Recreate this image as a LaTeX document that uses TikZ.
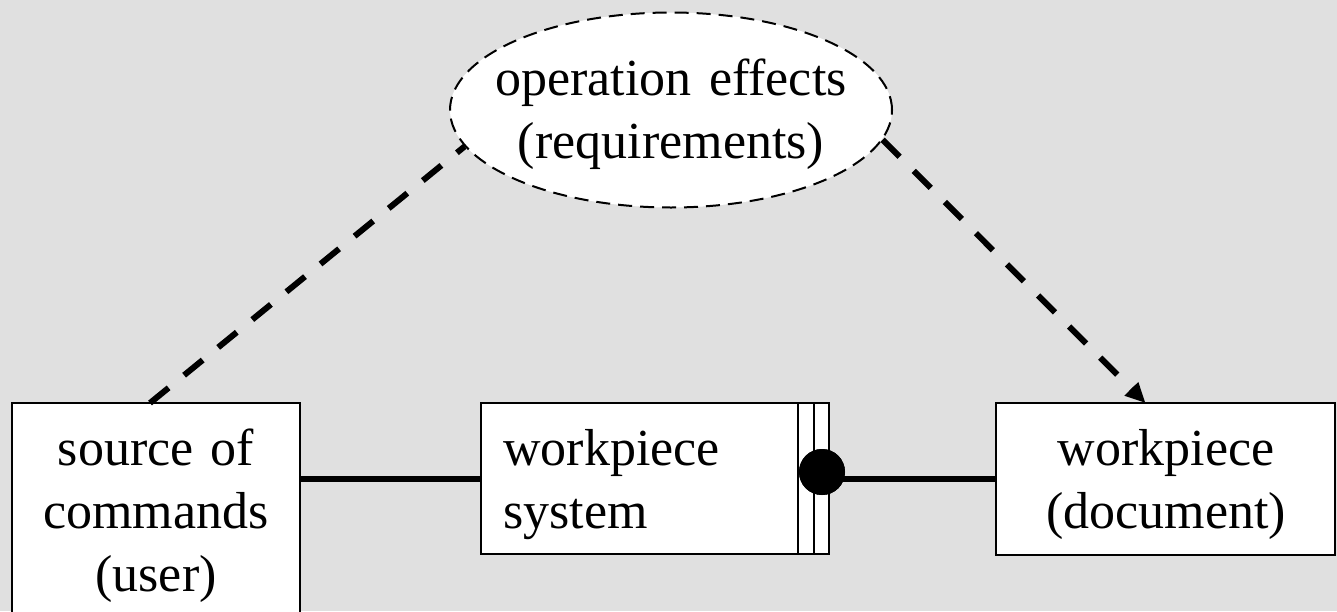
\documentclass[tikz,border=0pt]{standalone}
\usepackage{fontspec}
\setmainfont{Liberation Serif}
\usetikzlibrary{shapes.geometric,arrows.meta}
\definecolor{bg}{RGB}{224,224,224}
\begin{document}
\begin{tikzpicture}[x=0.5pt,y=-0.5pt,
  box/.style={draw,line width=1pt,fill=white,inner sep=0pt,outer sep=0pt,anchor=north west},
  txtc/.style={font=\fontsize{26}{31.5}\selectfont,inner sep=0pt,text width=210pt,align=center,anchor=base},
  txtl/.style={font=\fontsize{26}{31.5}\selectfont,inner sep=0pt,text width=140pt,align=left,anchor=base west},
  conn/.style={line width=3pt},
  dline/.style={line width=3pt,dash pattern=on 12pt off 10pt}]
\fill[bg] (0,0) rectangle (1337,611);
\useasboundingbox (0,0) rectangle (1337,611);
% boxes
\node[box,minimum width=144pt,minimum height=120pt] (src) at (12,403) {};
\node[box,minimum width=174pt,minimum height=75.5pt] (mid) at (481,403) {};
\node[box,minimum width=169.5pt,minimum height=76pt] (doc) at (996,403) {};
\draw[line width=1pt] ([xshift=-15.5pt]mid.north east) -- ([xshift=-15.5pt]mid.south east);
\draw[line width=1pt] ([xshift=-7.5pt]mid.north east) -- ([xshift=-7.5pt]mid.south east);
% ellipse
\node[draw,ellipse,line width=1pt,dash pattern=on 7pt off 4pt,fill=white,inner sep=0pt,
      minimum width=221pt,minimum height=97.5pt] (op) at (671,110) {};
% texts
\node[txtc] (opT) at (671,95) {operation effects\\(requirements)};
\node[txtc] (srcT) at (156,465) {source of\\commands\\(user)};
\node[txtl] (midT) at (503,465) {workpiece\\system};
\node[txtc] (docT) at (1166,465) {workpiece\\(document)};
% connectors
\draw[conn] (src.east |- mid.west) -- (mid.west);
\node[circle,fill=black,inner sep=0pt,minimum size=23pt] (dot) at (822,472) {};
\draw[conn] (dot.center |- doc.west) -- (doc.west);
\node[circle,fill=black,inner sep=0pt,minimum size=23pt] at (dot) {};
\draw[dline] ([xshift=-3pt]src.north) -- (op.190.8);
\draw[dline,-{Triangle[length=10pt,width=9pt]}] (op.352.4) -- ([xshift=-10pt]doc.north);
\end{tikzpicture}
\end{document}
